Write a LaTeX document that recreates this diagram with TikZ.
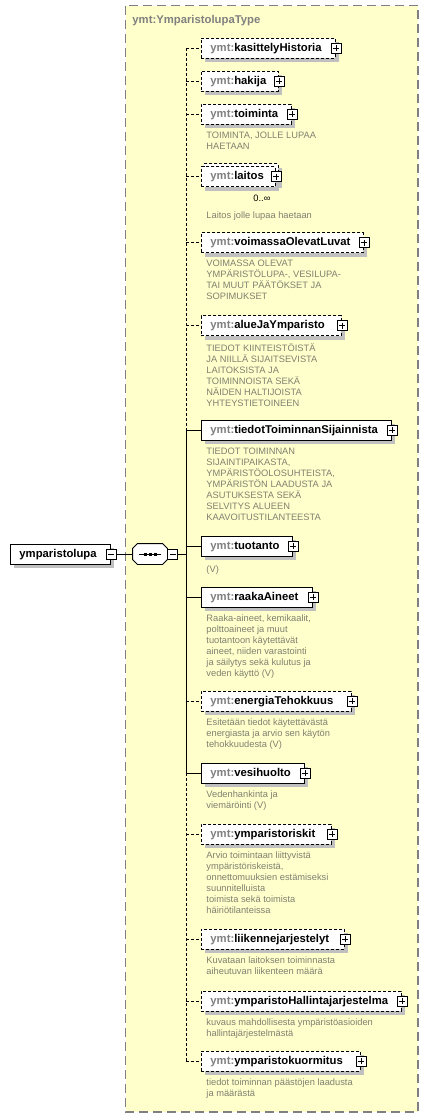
\documentclass[tikz,border=0pt]{standalone}
\usepackage{fontspec}
\setmainfont{Liberation Sans}
\usetikzlibrary{positioning, shadows}

\definecolor{typeyellow}{RGB}{255,255,204}
\definecolor{shadowgray}{RGB}{192,192,192}
\definecolor{prefixgray}{RGB}{128,128,128}
\definecolor{docgray}{RGB}{128,128,112}
\definecolor{framegray}{RGB}{128,128,128}

\newcommand{\elfont}{\fontsize{11.3}{13}\selectfont\bfseries}
\newcommand{\docfont}{\fontsize{9.3}{11}\selectfont}
\newcommand{\ymt}[1]{\textcolor{prefixgray}{ymt:}#1}

\begin{document}
\begin{tikzpicture}[
        x=1pt, y=-1pt,
        line width=0.9pt,
        % required element box
        elem/.style={
            draw,
            fill=white,
            font=\elfont,
            anchor=west,
            align=left,
            inner xsep=9pt,
            inner ysep=0pt,
            text height=8.5pt,
            text depth=2.5pt,
            minimum height=20pt,
            drop shadow={shadow xshift=4pt, shadow yshift=-4pt, fill=shadowgray, opacity=1}
        },
        % optional element box (dashed)
        opt/.style={elem, dash pattern=on 3pt off 2pt},
        optline/.style={dash pattern=on 3pt off 2pt},
        % the small + and - boxes
        expand/.style={
            draw, fill=white, line width=0.8pt,
            minimum size=10pt, inner sep=0pt,
            path picture={
                \draw ([xshift=2pt]path picture bounding box.west) -- ([xshift=-2pt]path picture bounding box.east)
                      ([yshift=-2pt]path picture bounding box.north) -- ([yshift=2pt]path picture bounding box.south);
            }
        },
        collapse/.style={
            draw, fill=white, line width=0.8pt,
            minimum size=10pt, inner sep=0pt,
            path picture={
                \draw ([xshift=2pt]path picture bounding box.west) -- ([xshift=-2pt]path picture bounding box.east);
            }
        },
        % sequence compositor (octagon drawn round it)
        seq/.style={minimum width=34pt, minimum height=20pt, inner sep=0pt},
        doc/.style={font=\docfont, text=docgray, align=left, inner sep=0pt,
            execute at begin node={\rule{0pt}{9pt}}},
        typebox/.style={draw=framegray, fill=typeyellow, line width=1.2pt, dash pattern=on 9pt off 5pt},
    ]

    \useasboundingbox (0,0) rectangle (429,1117);

    % complex type frame
    \draw[typebox] (125.5,5.5) rectangle (418,1112);
    \node[font=\elfont, text=prefixgray, anchor=base west, inner sep=0pt] (type) at (132,23) {ymt:YmparistolupaType};

    % root and sequence
    \node[elem, text width=82pt] (ymparistolupa) at (10,554) {ymparistolupa};
    \node[collapse] (ymparistolupa-x) at (ymparistolupa.east) {};
    \node[seq] (seq) at (150,554) {};
    \fill[shadowgray, shift={(4,4)}]
        ([xshift=5pt]seq.north west) -- ([xshift=-5pt]seq.north east) -- ([yshift=-5pt]seq.north east)
        -- ([yshift=5pt]seq.south east) -- ([xshift=-5pt]seq.south east) -- ([xshift=5pt]seq.south west)
        -- ([yshift=5pt]seq.south west) -- ([yshift=-5pt]seq.north west) -- cycle;
    \filldraw[fill=white]
        ([xshift=5pt]seq.north west) -- ([xshift=-5pt]seq.north east) -- ([yshift=-5pt]seq.north east)
        -- ([yshift=5pt]seq.south east) -- ([xshift=-5pt]seq.south east) -- ([xshift=5pt]seq.south west)
        -- ([yshift=5pt]seq.south west) -- ([yshift=-5pt]seq.north west) -- cycle;
    \draw ([xshift=-11pt]seq.center) -- ([xshift=11pt]seq.center);
    \foreach \dx in {-5,0,5}
        \fill ([xshift=\dx pt]seq.center) +(-1.5,-1.5) rectangle +(1.5,1.5);
    \node[collapse, anchor=west] (seq-x) at (seq.east) {};
    \coordinate (trunk) at (186,554);

    % children
    \node[opt, text width=116pt] (kasittelyHistoria) at (201,48) {\ymt{kasittelyHistoria}};
    \node[opt, text width=59pt] (hakija) at (201,81) {\ymt{hakija}};
    \node[opt, text width=72pt] (toiminta) at (201,114) {\ymt{toiminta}};
    \node[opt, minimum width=74pt, inner xsep=0pt] (laitos-stack) at (204,173.5) {};
    \node[opt, text width=56pt] (laitos) at (201,176.5) {\ymt{laitos}};
    \node[opt, text width=144pt] (voimassaOlevatLuvat) at (201,242.5) {\ymt{voimassaOlevatLuvat}};
    \node[opt, text width=122pt] (alueJaYmparisto) at (201,325.5) {\ymt{alueJaYmparisto}};
    \node[elem, text width=172pt] (tiedotToiminnanSijainnista) at (201,430) {\ymt{tiedotToiminnanSijainnista}};
    \node[elem, text width=73pt] (tuotanto) at (201,546) {\ymt{tuotanto}};
    \node[elem, text width=93pt] (raakaAineet) at (201,597) {\ymt{raakaAineet}};
    \node[opt, text width=132pt] (energiaTehokkuus) at (201,701) {\ymt{energiaTehokkuus}};
    \node[elem, text width=85pt] (vesihuolto) at (201,773) {\ymt{vesihuolto}};
    \node[opt, text width=112pt] (ymparistoriskit) at (201,834) {\ymt{ymparistoriskit}};
    \node[opt, text width=125pt] (liikennejarjestelyt) at (201,939) {\ymt{liikennejarjestelyt}};
    \node[opt, text width=182pt] (ymparistoHallintajarjestelma) at (201,1001) {\ymt{ymparistoHallintajarjestelma}};
    \node[opt, text width=141pt] (ymparistokuormitus) at (201,1061) {\ymt{ymparistokuormitus}};

    \foreach \n in {kasittelyHistoria, hakija, toiminta, laitos, voimassaOlevatLuvat,
                    alueJaYmparisto, tiedotToiminnanSijainnista, tuotanto, raakaAineet,
                    energiaTehokkuus, vesihuolto, ymparistoriskit, liikennejarjestelyt,
                    ymparistoHallintajarjestelma, ymparistokuormitus}
        \node[expand] (\n-x) at (\n.east) {};

    \node[font=\docfont, anchor=base east, inner sep=0pt] (laitos-card) at ([xshift=-5pt,yshift=-15pt]laitos.south east) {0..∞};

    % annotations
    \node[doc, below right=7pt and 5pt of toiminta.south west] (toiminta-doc) {TOIMINTA, JOLLE LUPAA\\HAETAAN};
    \node[doc, below right=22.5pt and 5pt of laitos.south west] (laitos-doc) {Laitos jolle lupaa haetaan};
    \node[doc, below right=7pt and 5pt of voimassaOlevatLuvat.south west] (voimassaOlevatLuvat-doc)
        {VOIMASSA OLEVAT\\YMPÄRISTÖLUPA-, VESILUPA-\\TAI MUUT PÄÄTÖKSET JA\\SOPIMUKSET};
    \node[doc, below right=7pt and 5pt of alueJaYmparisto.south west] (alueJaYmparisto-doc)
        {TIEDOT KIINTEISTÖISTÄ\\JA NIILLÄ SIJAITSEVISTA\\LAITOKSISTA JA\\TOIMINNOISTA SEKÄ\\NÄIDEN HALTIJOISTA\\YHTEYSTIETOINEEN};
    \node[doc, below right=7pt and 5pt of tiedotToiminnanSijainnista.south west] (tiedotToiminnanSijainnista-doc)
        {TIEDOT TOIMINNAN\\SIJAINTIPAIKASTA,\\YMPÄRISTÖOLOSUHTEISTA,\\YMPÄRISTÖN LAADUSTA JA\\ASUTUKSESTA SEKÄ\\SELVITYS ALUEEN\\KAAVOITUSTILANTEESTA};
    \node[doc, below right=7pt and 5pt of tuotanto.south west] (tuotanto-doc) {(V)};
    \node[doc, below right=7pt and 5pt of raakaAineet.south west] (raakaAineet-doc)
        {Raaka-aineet, kemikaalit,\\polttoaineet ja muut\\tuotantoon käytettävät\\aineet, niiden varastointi\\ja säilytys sekä kulutus ja\\veden käyttö (V)};
    \node[doc, below right=7pt and 5pt of energiaTehokkuus.south west] (energiaTehokkuus-doc)
        {Esitetään tiedot käytettävästä\\energiasta ja arvio sen käytön\\tehokkuudesta (V)};
    \node[doc, below right=7pt and 5pt of vesihuolto.south west] (vesihuolto-doc) {Vedenhankinta ja\\viemäröinti (V)};
    \node[doc, below right=7pt and 5pt of ymparistoriskit.south west] (ymparistoriskit-doc)
        {Arvio toimintaan liittyvistä\\ympäristöriskeistä,\\onnettomuuksien estämiseksi\\suunnitelluista\\toimista sekä toimista\\häiriötilanteissa};
    \node[doc, below right=7pt and 5pt of liikennejarjestelyt.south west] (liikennejarjestelyt-doc)
        {Kuvataan laitoksen toiminnasta\\aiheutuvan liikenteen määrä};
    \node[doc, below right=7pt and 5pt of ymparistoHallintajarjestelma.south west] (ymparistoHallintajarjestelma-doc)
        {kuvaus mahdollisesta ympäristöasioiden\\hallintajärjestelmästä};
    \node[doc, below right=7pt and 5pt of ymparistokuormitus.south west] (ymparistokuormitus-doc)
        {tiedot toiminnan päästöjen laadusta\\ja määrästä};

    % connectors
    \draw (ymparistolupa-x) -- (seq);
    \draw (seq-x) -- (trunk);
    \draw[optline] (kasittelyHistoria.west -| trunk) -- (tiedotToiminnanSijainnista.west -| trunk);
    \draw (tiedotToiminnanSijainnista.west -| trunk) -- (vesihuolto.west -| trunk);
    \draw[optline] (vesihuolto.west -| trunk) -- (ymparistokuormitus.west -| trunk);
    \foreach \n in {kasittelyHistoria, hakija, toiminta, laitos, voimassaOlevatLuvat,
                    alueJaYmparisto, energiaTehokkuus, ymparistoriskit, liikennejarjestelyt,
                    ymparistoHallintajarjestelma, ymparistokuormitus}
        \draw[optline] (\n.west -| trunk) -- (\n.west);
    \foreach \n in {tiedotToiminnanSijainnista, tuotanto, raakaAineet, vesihuolto}
        \draw (\n.west -| trunk) -- (\n.west);

\end{tikzpicture}
\end{document}
